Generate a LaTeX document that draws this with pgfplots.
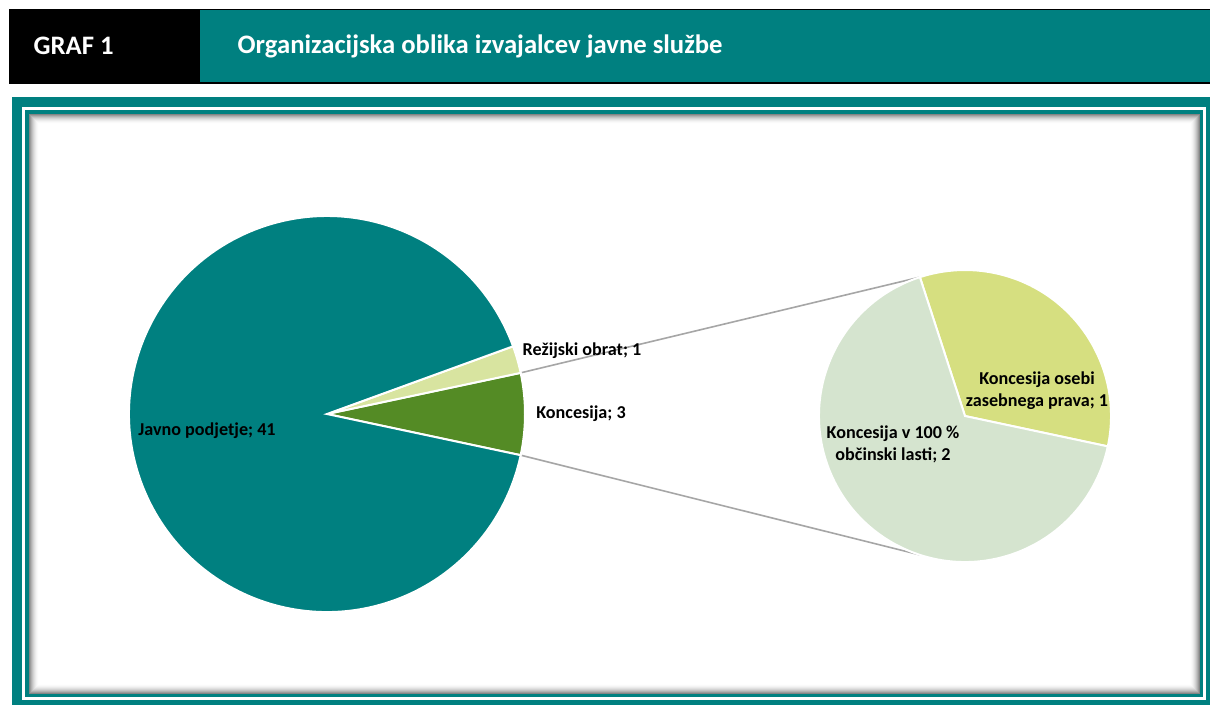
\documentclass[border=0pt]{standalone}
\usepackage{pgfplots}
\pgfplotsset{compat=1.18}
\usepackage{pgfplotstable}
\usetikzlibrary{calc}
\usepackage{fontspec}
\setmainfont{Carlito}
\definecolor{tealA}{RGB}{0,128,128}
\definecolor{koncC}{RGB}{84,139,37}
\definecolor{rezC}{RGB}{216,228,160}
\definecolor{osebiC}{RGB}{214,223,128}
\definecolor{lastC}{RGB}{213,228,207}
\definecolor{connC}{RGB}{166,166,166}

% main pie: Koncesija, Rezijski obrat, Javno podjetje
\pgfplotstableread{
value
3
1
41
}\maindata
% secondary pie: Koncesija osebi zasebnega prava, Koncesija v 100 % obcinski lasti
\pgfplotstableread{
value
1
2
}\subdata

\pgfplotstablegetelem{0}{value}\of\maindata \let\vA\pgfplotsretval
\pgfplotstablegetelem{1}{value}\of\maindata \let\vB\pgfplotsretval
\pgfplotstablegetelem{2}{value}\of\maindata \let\vC\pgfplotsretval
\pgfplotstablegetelem{0}{value}\of\subdata \let\wA\pgfplotsretval
\pgfplotstablegetelem{1}{value}\of\subdata \let\wB\pgfplotsretval
\pgfmathsetmacro\totM{\vA+\vB+\vC}
\pgfmathsetmacro\aS{-\vA/\totM*180}
\pgfmathsetmacro\aA{\aS+\vA/\totM*360}
\pgfmathsetmacro\aB{\aA+\vB/\totM*360}
\pgfmathsetmacro\aC{\aB+\vC/\totM*360}
\pgfmathsetmacro\totS{\wA+\wB}
\pgfmathsetmacro\bA{\aS+\wA/\totS*360}
\pgfmathsetmacro\bB{\bA+\wB/\totS*360}
\pgfmathsetmacro\bN{-\bA}

\begin{document}
\begin{tikzpicture}
\begin{scope}[x=0.75pt,y=-0.75pt]
\clip (0,0) rectangle (1210,704);
\fill[white] (0,0) rectangle (1210,704);
% title bar
\fill[black] (9,9) rectangle (1220,84);
\fill[tealA] (200,10) rectangle (1220,82);
\node[anchor=west, text=white, font=\bfseries\fontsize{20}{22}\selectfont] at (29,46) {GRAF 1};
\node[anchor=west, text=white, font=\bfseries\fontsize{20}{22}\selectfont] at (233,46) {Organizacijska oblika izvajalcev javne službe};
% frame
\fill[tealA] (12,97) rectangle (1220,714);
\fill[white] (22,107) rectangle (1206,700);
\fill[tealA] (25,110) rectangle (1203,697);
\fill[white] (29,114) rectangle (1200,694);
\foreach \i in {0,...,9}{
  \pgfmathsetmacro\g{48*(1-\i/10)*(1-\i/10)}
  \draw[black!\g, line width=0.75pt] (29.5+\i,114.5+\i) rectangle (1199.5-\i,693.5-\i);
}
\end{scope}
\begin{axis}[hide axis, x=0.75pt, y=0.75pt, xmin=0, xmax=1210, ymin=0, ymax=704,
  y dir=reverse, clip=false, anchor=south west, at={(0,-528pt)}]
% connector lines
\draw[connC, line width=1.2pt] (axis cs:327,414) ++(\aA:148.5pt) -- ($(axis cs:965,416)+(\bA:109.5pt)$);
\draw[connC, line width=1.2pt] (axis cs:327,414) ++(\aS:148.5pt) -- ($(axis cs:965,416)+(\bN:109.5pt)$);
% main pie
\filldraw[fill=koncC, draw=white, line width=1.5pt] (axis cs:327,414) -- ++(\aS:148.5pt) arc[start angle=\aS, end angle=\aA, radius=148.5pt] -- cycle;
\filldraw[fill=rezC, draw=white, line width=1.5pt] (axis cs:327,414) -- ++(\aA:148.5pt) arc[start angle=\aA, end angle=\aB, radius=148.5pt] -- cycle;
\filldraw[fill=tealA, draw=white, line width=1.5pt] (axis cs:327,414) -- ++(\aB:148.5pt) arc[start angle=\aB, end angle=\aC, radius=148.5pt] -- cycle;
% secondary pie
\filldraw[fill=osebiC, draw=white, line width=1.5pt] (axis cs:965,416) -- ++(\aS:109.5pt) arc[start angle=\aS, end angle=\bA, radius=109.5pt] -- cycle;
\filldraw[fill=lastC, draw=white, line width=1.5pt] (axis cs:965,416) -- ++(\bA:109.5pt) arc[start angle=\bA, end angle=\bB, radius=109.5pt] -- cycle;
% labels
\begin{scope}[every node/.style={font=\bfseries\fontsize{13.6}{16.5}\selectfont, text=black, align=center, inner sep=0pt}]
\node at (axis cs:207,431) {Javno podjetje; 41};
\node at (axis cs:582,351) {Režijski obrat; 1};
\node at (axis cs:581,414) {Koncesija; 3};
\node at (axis cs:1037,391) {Koncesija osebi\\zasebnega prava; 1};
\node at (axis cs:893,444) {Koncesija v 100 \%\\občinski lasti; 2};
\end{scope}
\end{axis}
\end{tikzpicture}
\end{document}
